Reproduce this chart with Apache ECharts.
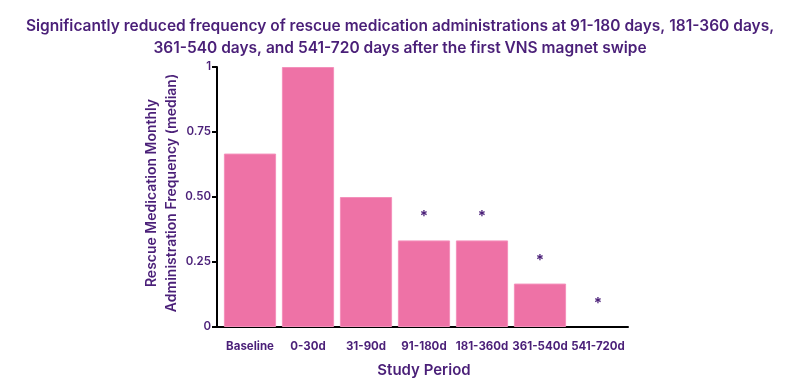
<!DOCTYPE html>
<html><head><meta charset="utf-8">
<script src="https://cdn.jsdelivr.net/npm/echarts@6/dist/echarts.min.js"></script>
<style>html,body{margin:0;padding:0;background:#fff}#c{width:800px;height:390px}</style>
</head><body><div id="c"></div>
<script>
var categories = ['Baseline','0-30d','31-90d','91-180d','181-360d','361-540d','541-720d'];
var values = [0.667, 1, 0.5, 0.333, 0.333, 0.167, 0];
var significant = [false, false, false, true, true, true, true];
var yTicks = [0, 0.25, 0.5, 0.75, 1];
var purple = '#4a1f78';
var chart = echarts.init(document.getElementById('c'));
chart.setOption({
  animation: false,
  title: {
    text: 'Significantly reduced frequency of rescue medication administrations at 91-180 days, 181-360 days,\n361-540 days, and 541-720 days after the first VNS magnet swipe',
    left: 'center', top: 10,
    textStyle: {color: purple, fontFamily: 'Inter', fontWeight: 600, fontSize: 15.5, lineHeight: 22}
  },
  grid: [
    {left: 221, right: 173, top: 67, bottom: 63},
    {left: 217, right: 172, top: 67, bottom: 63}
  ],
  xAxis: [{
    type: 'category', data: categories, gridIndex: 0,
    name: 'Study Period', nameLocation: 'middle', nameGap: 36,
    nameTextStyle: {color: purple, fontFamily: 'Inter', fontWeight: 600, fontSize: 15},
    axisLine: {show: false},
    axisTick: {show: false},
    axisLabel: {color: purple, fontFamily: 'Inter', fontWeight: 700, fontSize: 11.5, margin: 14, interval: 0}
  }, {
    type: 'value', gridIndex: 1, min: 0, max: 1,
    axisLine: {show: true, lineStyle: {color: '#000', width: 2}},
    axisTick: {show: false}, axisLabel: {show: false}, splitLine: {show: false}
  }],
  yAxis: [{
    type: 'value', gridIndex: 0, min: 0, max: 1, interval: 0.25, offset: 4,
    name: 'Rescue Medication Monthly\nAdministration Frequency (median)', nameLocation: 'middle', nameGap: 35,
    nameMoveOverlap: false,
    nameTextStyle: {color: purple, fontFamily: 'Inter', fontWeight: 600, fontSize: 14, lineHeight: 20, padding: [0, 0, 0, 8]},
    axisLine: {show: true, lineStyle: {color: '#000', width: 2}},
    axisTick: {show: true, length: 5, lineStyle: {color: '#000', width: 2}},
    splitLine: {show: false},
    axisLabel: {color: purple, fontFamily: 'Inter', fontWeight: 600, fontSize: 11.5, margin: 6,
      formatter: function(v){ return (v === 0 || v === 1) ? String(v) : v.toFixed(2); }}
  }, {
    type: 'value', gridIndex: 1, show: false, min: 0, max: 1
  }],
  series: [{
    type: 'bar', xAxisIndex: 0, yAxisIndex: 0,
    data: values.map(function(v, i){ return {value: v, label: {show: significant[i]}, itemStyle: {borderWidth: v === 0 ? 0 : 1}}; }),
    barCategoryGap: '10%',
    itemStyle: {color: '#ee72a6', borderColor: '#f490bb'},
    label: {position: 'top', distance: 16, formatter: '*', color: purple, fontSize: 15, fontWeight: 'bold', fontFamily: 'Inter'}
  }]
});
</script></body></html>
